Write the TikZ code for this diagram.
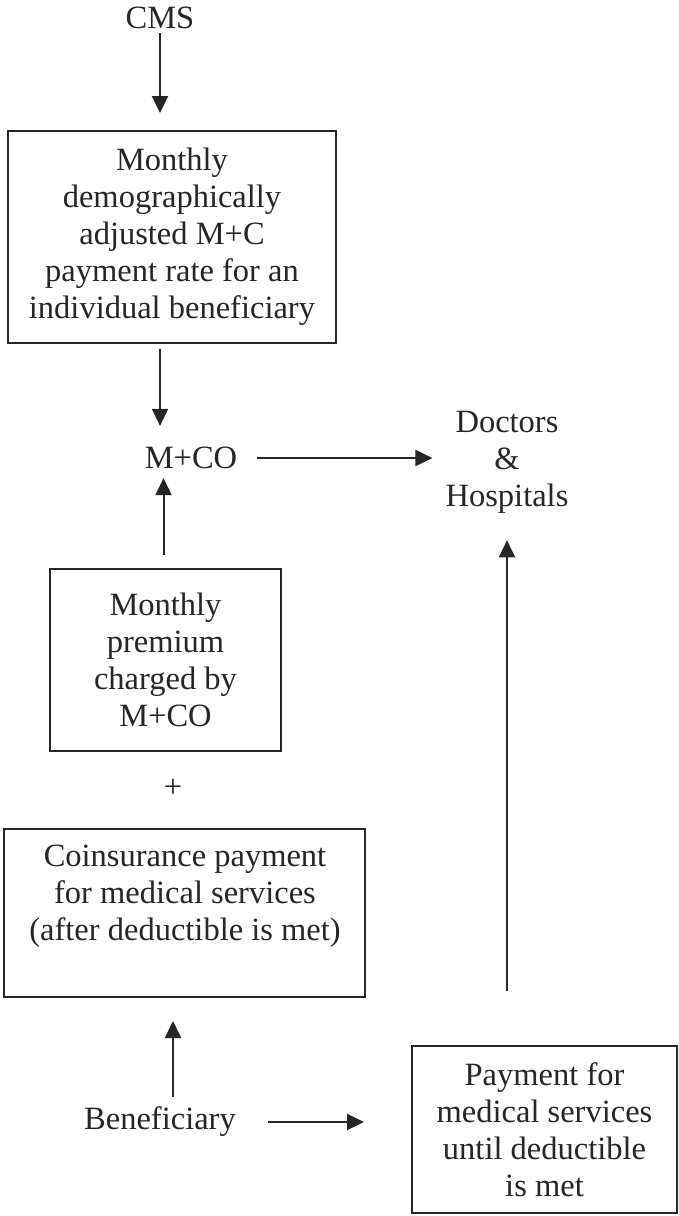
\documentclass[tikz,border=0pt]{standalone}
\usepackage{fontspec}
\setmainfont{Liberation Serif}
\usetikzlibrary{arrows.meta}
\definecolor{ink}{HTML}{262626}
\begin{document}
\begin{tikzpicture}[x=1pt,y=-1pt,
  txt/.style={font=\fontsize{32.5}{37}\selectfont, align=center, inner sep=0pt, text=ink},
  box/.style={draw=ink, line width=2pt, inner sep=0pt},
  arr/.style={draw=ink, line width=2pt, -{Triangle[length=17pt,width=16pt]}}]
\useasboundingbox[fill=white] (0,0) rectangle (679,1216);

\node[txt] (cms) at (160,18) {CMS};
\node[box,txt,minimum width=328pt,minimum height=212pt] (b1) at (172,237)
  {Monthly\\demographically\\adjusted M+C\\payment rate for an\\individual beneficiary};
\node[txt] (mco) at (191,458) {M+CO};
\node[txt] (doc) at (507,462) {Doctors\\\&\\Hospitals};
\node[box,txt,minimum width=231pt,minimum height=182pt] (b2) at (165.5,660)
  {Monthly\\premium\\charged by\\M+CO};
\node[txt] (plus) at (173,788) {+};
\node[box,minimum width=361pt,minimum height=168pt] (b3) at (184.5,913) {};
\node[txt] (b3t) at (185,896) {Coinsurance payment\\for medical services\\(after deductible is met)};
\node[txt] (ben) at (160,1122) {Beneficiary};
\node[box,txt,minimum width=265pt,minimum height=167pt] (b4) at (544.5,1129.5)
  {Payment for\\medical services\\until deductible\\is met};

\draw[arr,shorten <=4pt,shorten >=17pt] (cms.south) -- (cms.south |- b1.north);
\draw[arr,shorten <=5pt,shorten >=21pt] (b1.south -| cms) -- (mco.north -| cms);
\draw[arr,shorten <=20pt,shorten >=13pt] (mco.east) -- (doc.west |- mco);
\draw[arr,shorten <=13pt,shorten >=9pt] ([xshift=-2pt]b2.north) -- ([xshift=-2pt]b2.north |- mco.south);
\draw[arr,shorten <=10pt,shorten >=23pt] (ben.north -| plus) -- (plus |- b3.south);
\draw[arr,shorten <=32pt,shorten >=47pt] (ben.east) -- (b4.west |- ben);
\draw[arr,shorten <=54pt,shorten >=27pt] (b4.north -| doc) -- (doc.south);
\end{tikzpicture}
\end{document}
